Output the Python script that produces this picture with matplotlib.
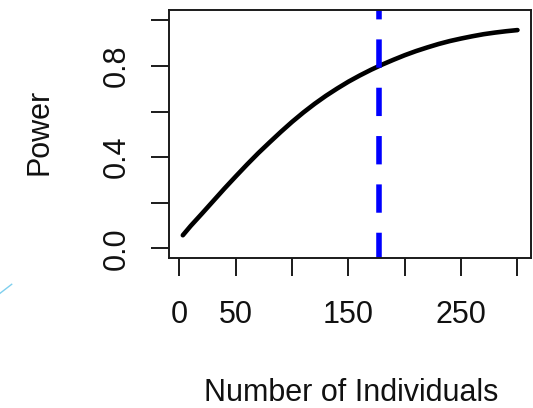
import matplotlib
matplotlib.use("Agg")
import matplotlib.pyplot as plt
from matplotlib.lines import Line2D

# ---- data ----
n_individuals = [3, 10, 20, 30, 40, 50, 60, 70, 80, 90, 100, 110, 120, 130, 140,
                 150, 160, 170, 180, 190, 200, 210, 220, 230, 240, 250, 260, 270,
                 280, 290, 300]
power = [0.058, 0.099, 0.153, 0.208, 0.263, 0.316, 0.368, 0.418, 0.465, 0.511,
         0.555, 0.596, 0.634, 0.669, 0.701, 0.731, 0.758, 0.783, 0.806, 0.827,
         0.847, 0.865, 0.881, 0.896, 0.909, 0.920, 0.930, 0.939, 0.946, 0.952,
         0.957]
cutoff_n = 177.5

x_ticks = [0, 50, 100, 150, 200, 250, 300]
x_tick_labels = ["0", "50", "", "150", "", "250", ""]
y_ticks = [0.0, 0.2, 0.4, 0.6, 0.8, 1.0]
y_tick_labels = ["0.0", "", "0.4", "", "0.8", ""]

plt.rcParams["font.family"] = ["Liberation Sans", "DejaVu Sans"]
plt.rcParams["lines.scale_dashes"] = False

W, H = 533, 408
fig = plt.figure(figsize=(W / 100, H / 100), dpi=100)
left, right, top, bottom = 169.3, 531.0, 10.0, 258.3
ax = fig.add_axes([left / W, 1 - bottom / H, (right - left) / W, (bottom - top) / H])

ax.plot(n_individuals, power, color="black", linewidth=3.3, solid_capstyle="round",
        solid_joinstyle="round")
ax.axvline(cutoff_n, color="#0000ff", linewidth=4.0,
           linestyle=(2.2, (20.4, 14.4)), dash_capstyle="butt")

ax.set_xlim(-9.0, 312.0)
ax.set_ylim(-0.043, 1.045)

ax.set_xticks(x_ticks)
ax.set_xticklabels(x_tick_labels)
ax.set_yticks(y_ticks)
ax.set_yticklabels(y_tick_labels)

for s in ax.spines.values():
    s.set_linewidth(1.4)
    s.set_color("#1a1a1a")

ax.tick_params(axis="both", direction="out", length=13.3, width=1.4,
               colors="#1a1a1a", labelsize=22, labelcolor="#111111")
ax.tick_params(axis="x", pad=16.5)
ax.tick_params(axis="y", pad=13.5)
for lab in ax.get_yticklabels():
    lab.set_rotation(90)
    lab.set_verticalalignment("center")

ax.set_xlabel("Number of Individuals", fontsize=22, color="#111111", va="baseline")
ax.xaxis.set_label_coords(0.5015, (bottom - 401) / (bottom - top))
ax.set_ylabel("Power", fontsize=22, color="#111111", va="baseline")
ax.yaxis.set_label_coords((48 - left) / (right - left), (bottom - 132) / (bottom - top))

# light blue decorative stroke at the lower left of the picture
fig.add_artist(Line2D([0, 11.7 / W], [1 - 293.3 / H, 1 - 284.3 / H],
                      transform=fig.transFigure, color="#7fcfee", linewidth=1.0))

fig.savefig("out.png", dpi=100)
